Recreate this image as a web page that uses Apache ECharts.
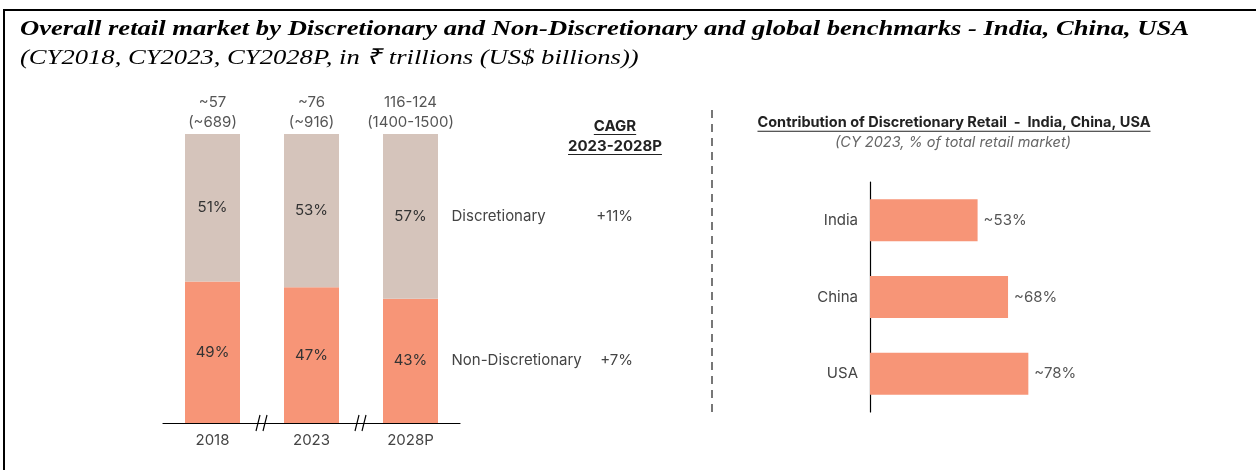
<!DOCTYPE html>
<html>
<head>
<meta charset="utf-8">
<script src="https://cdn.jsdelivr.net/npm/echarts@6/dist/echarts.min.js"></script>
<style>
html, body { margin: 0; padding: 0; background: #fff; }
#chart { width: 1256px; height: 470px; }
</style>
</head>
<body>
<div id="chart"></div>
<script>
// data
const years = ['2018', '2023', '2028P'];
const totalLabels = ['~57\n(~689)', '~76\n(~916)', '116-124\n(1400-1500)'];
const discretionary = [51, 53, 57];
const nonDiscretionary = [49, 47, 43];
const segmentNames = ['Discretionary', 'Non-Discretionary'];
const cagr = ['+11%', '+7%'];
const countries = ['India', 'China', 'USA'];
const discShare = [53, 68, 78];

const DISC = '#d5c4bb';
const NONDISC = '#f79577';
const FONT = 'Inter';

const chart = echarts.init(document.getElementById('chart'));

function textWidth(txt, font) {
    const ctx = document.createElement('canvas').getContext('2d');
    ctx.font = font;
    return ctx.measureText(txt).width;
}

// underlined bold text, centered at x
function underlined(txt, x, y, size, color) {
    const font = 'bold ' + size + 'px ' + FONT;
    const w = textWidth(txt, font);
    return [
        { type: 'text', x: x, y: y, silent: true,
          style: { text: txt, font: font, fill: color, textAlign: 'center', textVerticalAlign: 'middle' } },
        { type: 'line', silent: true,
          shape: { x1: x - w / 2, y1: y + size / 2 + 1, x2: x + w / 2, y2: y + size / 2 + 1 },
          style: { stroke: color, lineWidth: 1 } }
    ];
}

const option = {
    animation: false,
    backgroundColor: '#fff',
    textStyle: { fontFamily: FONT },
    grid: [
        { left: 163, right: 796, top: 134, bottom: 47 },
        { left: 870, width: 203, top: 182, bottom: 58 }
    ],
    xAxis: [
        {
            type: 'category', gridIndex: 0, data: years,
            axisLine: { lineStyle: { color: '#000', width: 1.2 } },
            axisTick: { show: false },
            axisLabel: { interval: 0, color: '#444', fontSize: 15, margin: 10 }
        },
        {
            type: 'category', gridIndex: 0, position: 'top', data: totalLabels,
            axisLine: { show: false }, axisTick: { show: false },
            axisLabel: { interval: 0, hideOverlap: false, color: '#555', fontSize: 15, lineHeight: 20, margin: 2 }
        },
        {
            type: 'value', gridIndex: 1, min: 0, max: 100, show: false
        }
    ],
    yAxis: [
        { type: 'value', gridIndex: 0, min: 0, max: 100, show: false },
        {
            type: 'category', gridIndex: 1, data: countries, inverse: true,
            axisLine: { lineStyle: { color: '#000', width: 1.2 } },
            axisTick: { show: false },
            axisLabel: { interval: 0, color: '#444', fontSize: 15, margin: 12 }
        }
    ],
    series: [
        {
            name: segmentNames[1], type: 'bar', stack: 'total',
            xAxisIndex: 0, yAxisIndex: 0, barWidth: 55,
            data: nonDiscretionary,
            itemStyle: { color: NONDISC },
            label: { show: true, position: 'inside', formatter: '{c}%', color: '#333', fontSize: 15 }
        },
        {
            name: segmentNames[0], type: 'bar', stack: 'total',
            xAxisIndex: 0, yAxisIndex: 0, barWidth: 55,
            data: discretionary,
            itemStyle: { color: DISC },
            label: { show: true, position: 'inside', formatter: '{c}%', color: '#333', fontSize: 15 }
        },
        {
            name: 'Discretionary share', type: 'bar',
            xAxisIndex: 2, yAxisIndex: 1, barWidth: 42,
            data: discShare,
            itemStyle: { color: NONDISC },
            label: { show: true, position: 'right', distance: 6, formatter: '~{c}%', color: '#555', fontSize: 15 }
        }
    ]
};
chart.setOption(option);

// decorations positioned from the axes
const axisY = chart.convertToPixel({ yAxisIndex: 0 }, 0);
const xs = years.map((y, i) => chart.convertToPixel({ xAxisIndex: 0 }, i));
const graphics = [
    { type: 'rect', silent: true, shape: { x: 4, y: 10, width: 1300, height: 500 },
      style: { fill: 'none', stroke: '#000', lineWidth: 2 } },
    { type: 'text', x: 20, y: 29, scaleX: 1.21, silent: true,
      style: { text: 'Overall retail market by Discretionary and Non-Discretionary and global benchmarks - India, China, USA',
               font: 'italic bold 22px "Liberation Serif"', fill: '#000', textVerticalAlign: 'middle' } },
    { type: 'text', x: 20, y: 58, scaleX: 1.21, silent: true,
      style: { text: '(CY2018, CY2023, CY2028P, in \u20b9 trillions (US$ billions))',
               font: 'italic 22px "Liberation Serif"', fill: '#000', textVerticalAlign: 'middle' } },
    { type: 'line', silent: true, shape: { x1: 712, y1: 110, x2: 712, y2: 418 },
      style: { stroke: '#777', lineWidth: 2, lineDash: [8, 6] } },
    { type: 'text', x: 953, y: 143, silent: true,
      style: { text: '(CY 2023, % of total retail market)', font: 'italic 14.5px ' + FONT,
               fill: '#666', textAlign: 'center', textVerticalAlign: 'middle' } }
];
graphics.push(...underlined('CAGR', 615, 126, 15, '#222'));
graphics.push(...underlined('2023-2028P', 615, 146, 15, '#222'));
graphics.push(...underlined('Contribution of Discretionary Retail  -  India, China, USA', 954, 123, 14.5, '#222'));

// axis breaks between categories
for (let i = 0; i < xs.length - 1; i++) {
    const bx = (xs[i] + xs[i + 1]) / 2;
    graphics.push(
        { type: 'rect', silent: true, shape: { x: bx - 4, y: axisY - 2, width: 8, height: 4 }, style: { fill: '#fff' } },
        { type: 'line', silent: true, shape: { x1: bx - 6, y1: axisY + 8, x2: bx - 2, y2: axisY - 8 }, style: { stroke: '#000', lineWidth: 1.2 } },
        { type: 'line', silent: true, shape: { x1: bx + 1, y1: axisY + 8, x2: bx + 5, y2: axisY - 8 }, style: { stroke: '#000', lineWidth: 1.2 } }
    );
}

// segment names and CAGR next to the last bar
const last = years.length - 1;
const lastX = xs[last];
const mids = [100 - discretionary[last] / 2, nonDiscretionary[last] / 2];
segmentNames.forEach((name, k) => {
    const y = chart.convertToPixel({ yAxisIndex: 0 }, mids[k]);
    graphics.push(
        { type: 'text', x: lastX + 41, y: y, silent: true,
          style: { text: name, font: '15px ' + FONT, fill: '#444', textVerticalAlign: 'middle' } },
        { type: 'text', x: 633, y: y, silent: true,
          style: { text: cagr[k], font: '15px ' + FONT, fill: '#444', textAlign: 'right', textVerticalAlign: 'middle' } }
    );
});

chart.setOption({ graphic: graphics });
</script>
</body>
</html>
